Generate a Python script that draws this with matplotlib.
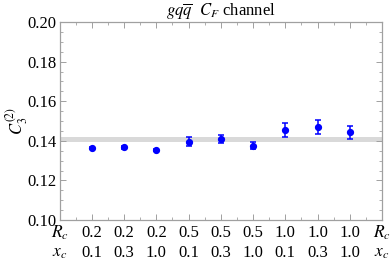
import matplotlib
matplotlib.use("Agg")
import matplotlib.pyplot as plt
import numpy as np
from matplotlib.ticker import MultipleLocator

# data
rc_labels = ["0.2", "0.2", "0.2", "0.5", "0.5", "0.5", "1.0", "1.0", "1.0"]
xc_labels = ["0.1", "0.3", "1.0", "0.1", "0.3", "1.0", "0.1", "0.3", "1.0"]
c3_values = [0.1365, 0.1367, 0.1353, 0.1396, 0.1409, 0.1375, 0.1456, 0.1471, 0.1443]
c3_errors = [0.0005, 0.0006, 0.0006, 0.0022, 0.0021, 0.0017, 0.0035, 0.0035, 0.0032]
band_center = 0.1405
band_halfwidth = 0.0012


def main():
    plt.rcParams["font.family"] = ["Liberation Serif", "DejaVu Serif"]
    plt.rcParams["mathtext.fontset"] = "stix"

    fig = plt.figure(figsize=(3.9, 2.63), dpi=100)
    ax = fig.add_axes([0.1526, 0.1635, 0.8269, 0.7528])

    xs = np.arange(1, len(c3_values) + 1)
    ax.axhspan(band_center - band_halfwidth, band_center + band_halfwidth,
               color="#d9d9d9", lw=0, zorder=1)
    ax.errorbar(xs, c3_values, yerr=c3_errors, fmt="o", color="#0000ff",
                ms=4.2, elinewidth=1.1, capsize=2, capthick=1.1, zorder=3)

    ax.set_xlim(0, len(c3_values) + 1)
    ax.set_ylim(0.10, 0.20)
    ax.yaxis.set_major_locator(MultipleLocator(0.02))
    ax.yaxis.set_minor_locator(MultipleLocator(0.005))
    ax.set_yticklabels([f"{v:.2f}" for v in ax.get_yticks()])
    ax.set_xticks(xs)
    ax.set_xticklabels([])
    ax.xaxis.set_minor_locator(MultipleLocator(0.5))

    for sp in ax.spines.values():
        sp.set_color("#a0a0a0")
        sp.set_linewidth(0.9)
    ax.tick_params(which="both", direction="in", colors="#a0a0a0",
                   labelcolor="black", top=True, right=True, labelsize=12)
    ax.tick_params(which="major", length=4, width=0.7)
    ax.tick_params(which="minor", length=2.2, width=0.6)
    ax.tick_params(axis="y", which="major", pad=2)

    # two rows of bottom labels
    trans = ax.get_xaxis_transform()
    row1, row2 = -0.065, -0.165
    for x, rc, xc in zip(xs, rc_labels, xc_labels):
        ax.text(x, row1, rc, transform=trans, ha="center", va="center", fontsize=12)
        ax.text(x, row2, xc, transform=trans, ha="center", va="center", fontsize=12)
    for x in (0, len(c3_values) + 1):
        ax.text(x, row1, "$R_c$", transform=trans, ha="center", va="center", fontsize=12.5)
        ax.text(x, row2, "$x_c$", transform=trans, ha="center", va="center", fontsize=12.5)

    ax.set_ylabel("$C_3^{(2)}$", fontsize=12, va="center")
    ax.yaxis.set_label_coords(-0.132, 0.5)
    ax.set_title(r"$gq\overline{q}$  $C_F$ channel", fontsize=12, pad=3)

    fig.savefig("out.png", dpi=100)


if __name__ == "__main__":
    main()
